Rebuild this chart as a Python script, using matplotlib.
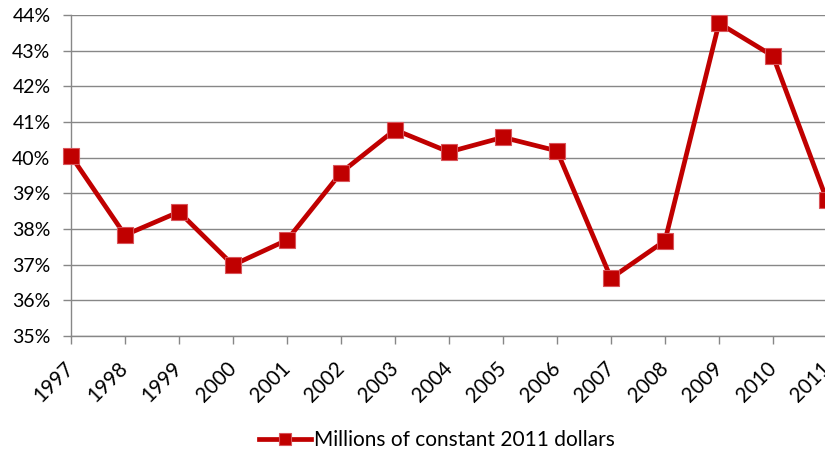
import matplotlib
matplotlib.use("Agg")
import matplotlib.pyplot as plt
from matplotlib.ticker import FuncFormatter

years = [1997, 1998, 1999, 2000, 2001, 2002, 2003, 2004, 2005, 2006, 2007, 2008, 2009, 2010, 2011]
values = [40.05, 37.83, 38.48, 36.99, 37.69, 39.58, 40.78, 40.16, 40.57, 40.19, 36.62, 37.67, 43.77, 42.85, 38.8]
series_name = "Millions of constant 2011 dollars"
y_ticks = [35, 36, 37, 38, 39, 40, 41, 42, 43, 44]

plt.rcParams['font.family'] = ['Lato', 'DejaVu Sans']

W, H = 825, 455
fig = plt.figure(figsize=(W/100, H/100), dpi=100)
left, right, top, bottom = 71, 827, 15, 336
ax = fig.add_axes([left/W, 1 - bottom/H, (right-left)/W, (bottom-top)/H])

xs = list(range(len(years)))
ax.plot(xs, values, color='#C00000', lw=3.4, marker='s', markersize=11.5,
        markerfacecolor='#C00000', markeredgecolor='#D9545A', markeredgewidth=0.8,
        label=series_name, zorder=3, clip_on=False)

ax.set_xlim(0, len(years) - 1)
ax.set_ylim(35, 44)
ax.set_yticks(y_ticks)
ax.yaxis.set_major_formatter(FuncFormatter(lambda v, p: f"{int(round(v))}%"))
ax.set_xticks(xs)
ax.set_xticklabels([str(y) for y in years], rotation=45, ha='right', va='center',
                   rotation_mode='anchor')

ax.grid(axis='y', color='#878787', lw=1.0)
ax.set_axisbelow(True)
for s in ['top', 'right']:
    ax.spines[s].set_visible(False)
for s in ['left', 'bottom']:
    ax.spines[s].set_color('#878787')
    ax.spines[s].set_linewidth(1.0)
ax.tick_params(axis='both', colors='#878787', length=5.8, width=1.0, labelcolor='black')
ax.tick_params(axis='y', pad=9, labelsize=14)
ax.tick_params(axis='x', pad=15, labelsize=14.8)

leg = fig.legend(loc='center', bbox_to_anchor=(437/W, 1 - 440/H), frameon=False, fontsize=15,
                 handlelength=2.5, handletextpad=0.15, markerscale=0.8)

fig.savefig("out.png", dpi=100)
